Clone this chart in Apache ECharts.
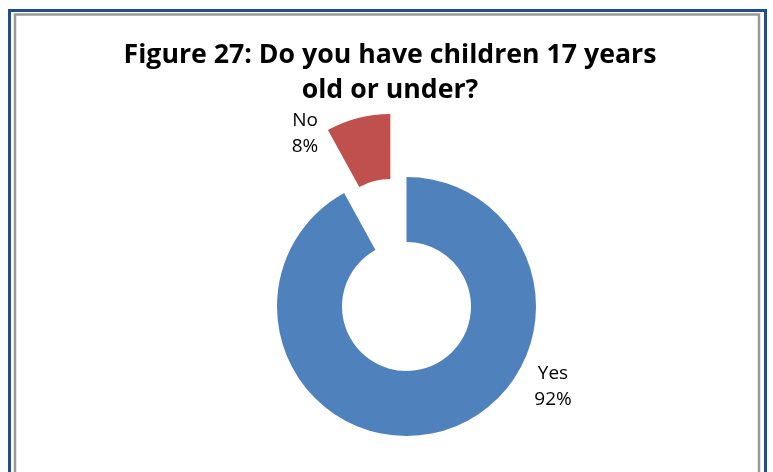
<!DOCTYPE html>
<html>
<head>
<meta charset="utf-8">
<style>
  html, body { margin: 0; padding: 0; background: #ffffff; }
  #chart { width: 773px; height: 472px; }
</style>
<script src="https://cdn.jsdelivr.net/npm/echarts@6/dist/echarts.min.js"></script>
</head>
<body>
<div id="chart"></div>
<script>
const titleText = "Figure 27: Do you have children 17 years\nold or under?";
const categories = ["Yes", "No"];
const values = [92, 8];
const sliceColors = ["#4F81BD", "#C0504D"];

const chart = echarts.init(document.getElementById('chart'), null, { renderer: 'canvas' });

// label anchor (centre of the two-line label block) for each category
const labelAnchor = [[553, 387], [305, 134]];

const total = values.reduce((a, b) => a + b, 0);
const labelTexts = categories.map((c, i) => c + '\n' + Math.round(values[i] / total * 100) + '%');

chart.setOption({
  animation: false,
  backgroundColor: '#ffffff',
  title: {
    text: titleText,
    left: 390,
    top: 38,
    padding: 0,
    textAlign: 'center',
    textStyle: {
      fontFamily: 'Open Sans',
      fontWeight: 'bold',
      fontSize: 26.7,
      lineHeight: 35,
      color: '#000000'
    }
  },
  graphic: [
    {
      type: 'rect',
      shape: { x: 9.5, y: 10.5, width: 756, height: 600 },
      style: { fill: 'none', stroke: '#1F4E8C', lineWidth: 3 },
      silent: true
    },
    {
      type: 'rect',
      shape: { x: 15, y: 14.5, width: 744, height: 600 },
      style: { fill: 'none', stroke: '#999999', lineWidth: 2.5 },
      silent: true
    }
  ].concat(labelTexts.map((t, i) => ({
    type: 'text',
    x: labelAnchor[i][0],
    y: labelAnchor[i][1],
    silent: true,
    style: {
      text: t,
      fill: '#000000',
      fontFamily: 'Open Sans',
      fontSize: 19,
      lineHeight: 26,
      align: 'center',
      verticalAlign: 'middle'
    }
  }))),
  series: [{
    type: 'pie',
    center: [406.5, 306.5],
    radius: [64.5, 129.5],
    startAngle: 90,
    clockwise: true,
    selectedMode: 'single',
    selectedOffset: 65,
    avoidLabelOverlap: false,
    emphasis: { disabled: true },
    label: { show: false },
    labelLine: { show: false },
    data: categories.map((c, i) => ({
      name: c,
      value: values[i],
      selected: c === 'No',
      itemStyle: { color: sliceColors[i] }
    }))
  }]
});
</script>
</body>
</html>
